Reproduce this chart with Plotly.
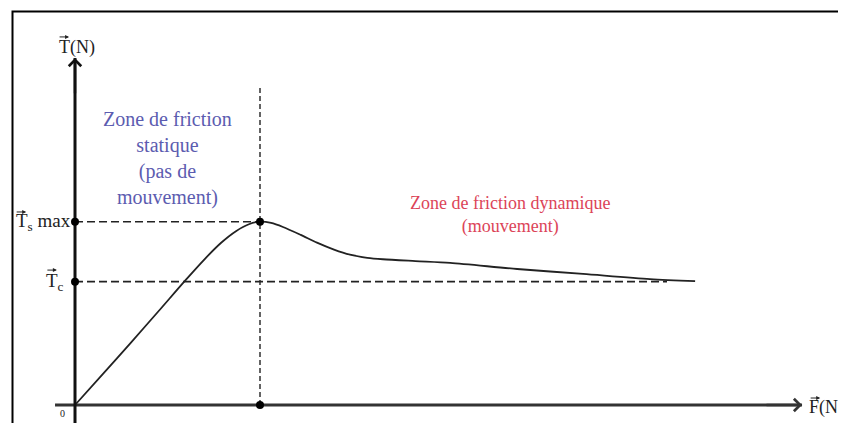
import plotly.graph_objects as go

# ---- data (arbitrary units: F in N, T in N) ----
F_curve = [0, 0.75, 1.5, 2.25, 3.0, 3.5, 3.95, 4.35, 4.7, 5.0,
           5.3, 5.62, 6.1, 6.54, 7.0, 7.43, 7.9, 8.32, 9.2, 10.14, 11.95, 13.73, 15.54, 16.76]
T_curve = [0, 1.68, 3.38, 5.1, 6.84, 7.95, 8.85, 9.48, 9.86, 10.0,
           9.93, 9.71, 9.28, 8.86, 8.48, 8.2, 8.03, 7.95, 7.85, 7.75, 7.42, 7.15, 6.87, 6.76]
F_s = 5.0          # force at the static limit
T_s_max = 10.0     # max static friction
T_c = 6.73         # kinetic friction
F_axis_end = 19.65
T_axis_end = 18.93
F_vline_top = 17.29
F_tc_end = 16.0

# figure drawn 8px in from the page corner (body margin)
FIG_W, FIG_H = 838, 415
X_RANGE = [-1.811, 20.838]
Y_RANGE = [-0.982, 21.658]

SERIF = "Liberation Serif"
BLUE = "#5c5cb0"
RED = "#dc4458"
INK = "#222"

fig = go.Figure()

# dashed guide lines
fig.add_trace(go.Scatter(x=[0, F_s], y=[T_s_max, T_s_max], mode="lines",
                         line=dict(color=INK, width=1.6, dash="8px,4px"), hoverinfo="skip"))
fig.add_trace(go.Scatter(x=[0, F_tc_end], y=[T_c, T_c], mode="lines",
                         line=dict(color=INK, width=1.6, dash="8px,4px"), hoverinfo="skip"))
fig.add_trace(go.Scatter(x=[F_s, F_s], y=[0, F_vline_top], mode="lines",
                         line=dict(color=INK, width=1.4, dash="5px,3px"), hoverinfo="skip"))

# friction curve
fig.add_trace(go.Scatter(x=F_curve, y=T_curve, mode="lines",
                         line=dict(color=INK, width=1.8, shape="spline", smoothing=0.8),
                         hoverinfo="skip"))

# axes as lines
fig.add_trace(go.Scatter(x=[-0.54, F_axis_end], y=[0, 0], mode="lines",
                         line=dict(color="#333", width=3), hoverinfo="skip"))
fig.add_trace(go.Scatter(x=[0, 0], y=[Y_RANGE[0], T_axis_end], mode="lines",
                         line=dict(color="#111", width=3), hoverinfo="skip"))

# key points
fig.add_trace(go.Scatter(x=[0, 0, F_s, F_s], y=[T_s_max, T_c, T_s_max, 0], mode="markers",
                         marker=dict(color="#000", size=8), hoverinfo="skip"))

# arrow heads of the axes
for (x, y, ax, ay, c) in [(F_axis_end, 0, F_axis_end - 1, 0, "#333"),
                          (0, T_axis_end, 0, T_axis_end - 2, "#111")]:
    fig.add_annotation(x=x, y=y, ax=ax, ay=ay, xref="x", yref="y", axref="x", ayref="y",
                       showarrow=True, arrowhead=4, arrowwidth=2.4, arrowsize=1,
                       arrowcolor=c, standoff=0, text="")


def label(x, y, text, size=19, color=INK, xanchor="center", yanchor="middle", align="center"):
    fig.add_annotation(x=x, y=y, xref="x", yref="y", text=text, showarrow=False,
                       font=dict(family=SERIF, size=size, color=color),
                       xanchor=xanchor, yanchor=yanchor, align=align)


def vec(x, y, length=11):
    # small vector arrow drawn above a letter (tip at x, y)
    fig.add_annotation(x=x, y=y, xref="x", yref="y", ax=-length, ay=0,
                       showarrow=True, arrowhead=2, arrowwidth=1, arrowsize=0.8,
                       arrowcolor=INK, standoff=0, text="")


label(-0.49, 19.53, "T(N)", size=18, xanchor="left")
vec(-0.16, 20.08)
label(19.78, -0.16, "F(N)", size=18, xanchor="left")
vec(20.14, 0.38)
label(-1.65, T_s_max, "T<sub>s</sub> max", size=19, xanchor="left")
vec(-1.32, 10.53)
label(-0.84, T_c, "T<sub>c</sub>", size=19, xanchor="left")
vec(-0.49, 7.36)
label(-0.35, -0.44, "0", size=10)
label(2.49, 13.45, "Zone de friction<br>statique<br>(pas de<br>mouvement)", size=20, color=BLUE)
label(11.76, 10.37, "Zone de friction dynamique<br>(mouvement)", size=18, color=RED)

# frame
fig.add_shape(type="rect", xref="paper", yref="paper",
              x0=4.5 / FIG_W, x1=1.05, y0=-0.1, y1=1 - 3.5 / FIG_H,
              line=dict(color="#000", width=2), fillcolor="rgba(0,0,0,0)")

fig.update_layout(
    width=FIG_W, height=FIG_H, autosize=False,
    margin=dict(l=0, r=0, t=0, b=0),
    paper_bgcolor="white", plot_bgcolor="white",
    showlegend=False,
    xaxis=dict(range=X_RANGE, visible=False, fixedrange=True),
    yaxis=dict(range=Y_RANGE, visible=False, fixedrange=True),
)

fig.write_html("out.html")
